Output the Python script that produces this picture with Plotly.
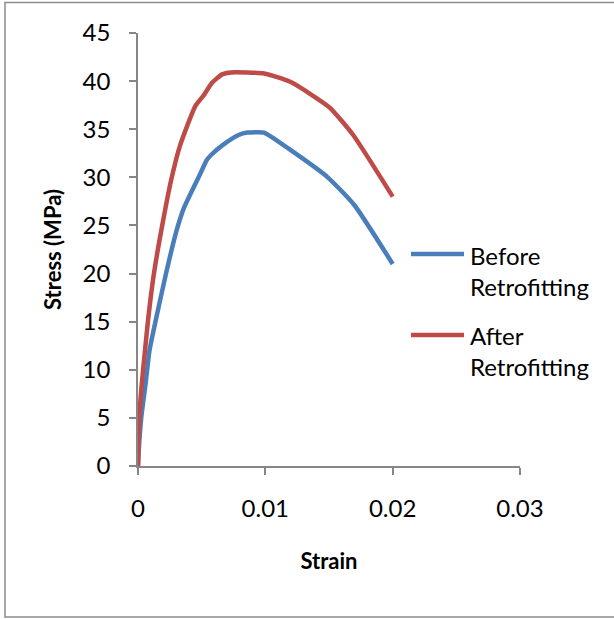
import plotly.graph_objects as go

# Stress–strain data
strain_before = [0, 0.0001, 0.00026, 0.0006, 0.0009, 0.0015, 0.0022, 0.0027,
                 0.0031, 0.0036, 0.0042, 0.0049, 0.0054, 0.0058, 0.0067,
                 0.0079, 0.0086, 0.0099, 0.0118, 0.0149, 0.017, 0.02]
stress_before = [0, 2.5, 5.1, 8.6, 12, 15.8, 20, 22.8,
                 24.8, 26.8, 28.5, 30.4, 31.8, 32.4, 33.4,
                 34.4, 34.65, 34.65, 33.0, 30.0, 27.1, 21.0]

strain_after = [0, 0.0001, 0.0003, 0.00055, 0.0008, 0.00125, 0.00193, 0.0026,
                0.0033, 0.0045, 0.0052, 0.0058, 0.0066, 0.0073, 0.0099,
                0.0112, 0.012, 0.0136, 0.0151, 0.0169, 0.02]
stress_after = [0, 5, 8.6, 12, 15.3, 20, 25.2, 29.7,
                33.3, 37.4, 38.6, 39.8, 40.7, 40.9, 40.8,
                40.3, 39.9, 38.6, 37.2, 34.4, 28.0]

series_names = ["Before<br>Retrofitting", "After<br>Retrofitting"]
series_colors = ["#4A7EBB", "#BE4B48"]

x_ticks = [0, 0.01, 0.02, 0.03]
x_tick_text = ["0", "0.01", "0.02", "0.03"]
y_ticks = [0, 5, 10, 15, 20, 25, 30, 35, 40, 45]

W, H = 614, 619
ML, MR, MT, MB = 138, 94, 33, 153
PW, PH = W - ML - MR, H - MT - MB


def px(xp):
    return (xp - ML) / PW


def py(yp):
    return (H - MB - yp) / PH


FONT = "Lato"
AXIS_GRAY = "#868686"

fig = go.Figure()
for xs, ys, name, color in [(strain_before, stress_before, series_names[0], series_colors[0]),
                            (strain_after, stress_after, series_names[1], series_colors[1])]:
    fig.add_trace(go.Scatter(x=xs, y=ys, mode="lines", name=name,
                             line=dict(color=color, width=4.5, shape="spline", smoothing=0.5),
                             showlegend=False))

shapes = []
annotations = []
# legend entries drawn by hand: long line sample + two-line label
legend_rows = [(254, 271), (335, 351)]
for (line_y, text_y), name, color in zip(legend_rows, series_names, series_colors):
    shapes.append(dict(type="line", xref="paper", yref="paper",
                       x0=px(411), x1=px(464), y0=py(line_y), y1=py(line_y),
                       line=dict(color=color, width=4.5)))
    annotations.append(dict(xref="paper", yref="paper", x=px(468), y=py(text_y),
                            xanchor="left", yanchor="middle", align="left",
                            text=name, showarrow=False,
                            font=dict(family=FONT, size=24, color="#000000")))

# outer chart frame
shapes.append(dict(type="rect", xref="paper", yref="paper",
                   x0=px(5), x1=px(630), y0=py(617), y1=py(2.5),
                   line=dict(color="#8c8c8c", width=1.5), layer="below"))

fig.update_layout(
    width=W, height=H,
    margin=dict(l=ML, r=MR, t=MT, b=MB, pad=0),
    paper_bgcolor="white", plot_bgcolor="white",
    font=dict(family=FONT, size=24, color="#000000"),
    shapes=shapes, annotations=annotations,
    xaxis=dict(range=[0, 0.03], tickvals=x_ticks, ticktext=x_tick_text,
               showgrid=False, zeroline=False, showline=True,
               linecolor=AXIS_GRAY, linewidth=1.5,
               ticks="outside", ticklen=7, tickwidth=1.5, tickcolor=AXIS_GRAY,
               ticklabelstandoff=13,
               title=dict(text="<b>Strain</b>", standoff=33,
                          font=dict(family=FONT, size=22))),
    yaxis=dict(range=[0, 45], tickvals=y_ticks,
               showgrid=False, zeroline=False, showline=True,
               linecolor=AXIS_GRAY, linewidth=1.5,
               ticks="outside", ticklen=7, tickwidth=1.5, tickcolor=AXIS_GRAY,
               ticklabelstandoff=14,
               title=dict(text="<b>Stress (MPa)</b>", standoff=15,
                          font=dict(family=FONT, size=22))),
)

fig.write_html("out.html")
